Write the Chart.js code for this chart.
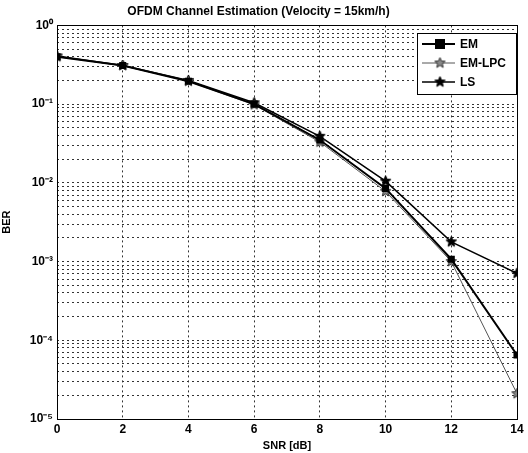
<!DOCTYPE html>
<html><head><meta charset="utf-8">
<script src="https://cdn.jsdelivr.net/npm/chart.js@4"></script>
<style>html,body{margin:0;padding:0;background:#fff}#wrap{width:528px;height:453px}</style>
</head><body><div id="wrap"><canvas id="c" width="528" height="453"></canvas></div>
<script>
const snr = [0, 2, 4, 6, 8, 10, 12, 14];
const berEM = [0.40, 0.31, 0.195, 0.100, 0.035, 0.0085, 0.00107, 6.5e-5];
const berEMLPC = [0.40, 0.31, 0.195, 0.098, 0.033, 0.0078, 0.00100, 2.1e-5];
const berLS = [0.41, 0.31, 0.20, 0.104, 0.039, 0.0105, 0.00178, 0.00071];
const seriesNames = ['EM', 'EM-LPC', 'LS'];
const yTickLabels = {0:'10\u2070', '-1':'10\u207B\u00B9', '-2':'10\u207B\u00B2', '-3':'10\u207B\u00B3', '-4':'10\u207B\u2074', '-5':'10\u207B\u2075'};

function starImg(size, fill, stroke, lw) {
  const c = document.createElement('canvas');
  c.width = size; c.height = size;
  const g = c.getContext('2d');
  const cx = size/2, cy = size/2, R = size/2 - 1, r = R*0.45;
  g.beginPath();
  for (let i = 0; i < 10; i++) {
    const a = -Math.PI/2 + i*Math.PI/5;
    const rr = i%2 ? r : R;
    const x = cx + rr*Math.cos(a), y = cy + rr*Math.sin(a);
    i ? g.lineTo(x,y) : g.moveTo(x,y);
  }
  g.closePath();
  if (fill) { g.fillStyle = fill; g.fill(); }
  g.lineWidth = lw; g.strokeStyle = stroke; g.stroke();
  return c;
}
const starLS = starImg(13, '#000', '#000', 1);
const starLPC = starImg(13, '#888', '#333', 1);

const toXY = (ys) => snr.map((x,i) => ({x, y: ys[i]}));

const frame = {
  id: 'frame',
  afterDraw(chart) {
    const {ctx, chartArea: a} = chart;
    ctx.save();
    ctx.strokeStyle = '#000'; ctx.lineWidth = 1;
    ctx.strokeRect(Math.round(a.left)+0.5, Math.round(a.top)+0.5, Math.round(a.right-a.left), Math.round(a.bottom-a.top));
    // legend box
    const lx = 417, ly = 33, lw = 99, lh = 61;
    ctx.fillStyle = '#fff'; ctx.fillRect(lx, ly, lw, lh);
    ctx.strokeRect(lx+0.5, ly+0.5, lw, lh);
    const rows = [44, 63, 82];
    const styles = [
      {c:'#000', w:2, m:'sq'},
      {c:'#555', w:1, m:starLPC},
      {c:'#000', w:1.5, m:starLS}
    ];
    ctx.font = 'bold 12px "Liberation Sans", Arial, sans-serif';
    ctx.textBaseline = 'middle';
    rows.forEach((y, i) => {
      const s = styles[i];
      ctx.strokeStyle = s.c; ctx.lineWidth = s.w;
      ctx.beginPath(); ctx.moveTo(422, y); ctx.lineTo(455, y); ctx.stroke();
      if (s.m === 'sq') { ctx.fillStyle = '#000'; ctx.fillRect(435, y-5, 10, 10); }
      else ctx.drawImage(s.m, 440-6.5, y-6.5);
      ctx.fillStyle = '#000';
      ctx.fillText(seriesNames[i], 460, y+1);
    });
    ctx.restore();
  }
};

new Chart(document.getElementById('c'), {
  type: 'line',
  data: {
    datasets: [
      {label: seriesNames[0], data: toXY(berEM), borderColor:'#000', backgroundColor:'#000', borderWidth:2, pointStyle:'rect', pointRadius:5, pointBorderWidth:0},
      {label: seriesNames[1], data: toXY(berEMLPC), borderColor:'#555', backgroundColor:'#888', borderWidth:1, pointStyle:starLPC, pointRadius:6},
      {label: seriesNames[2], data: toXY(berLS), borderColor:'#000', backgroundColor:'#000', borderWidth:1.5, pointStyle:starLS, pointRadius:6}
    ]
  },
  options: {
    responsive: false, animation: false,
    layout: {padding: {right: 11, left: 0, bottom: 0, top: 0}},
    plugins: {
      legend: {display: false},
      tooltip: {enabled: false},
      title: {display: true, text: 'OFDM Channel Estimation (Velocity = 15km/h)', color:'#000',
        font: {family:'"Liberation Sans", Arial, sans-serif', size: 12, weight: 'bold'}, padding: {top: 4, bottom: 7}}
    },
    scales: {
      x: {
        type: 'linear', min: 0, max: 14,
        afterFit(s) { s.height = 34; },
        ticks: {stepSize: 2, color:'#000', padding: 3, font: {family:'"Liberation Sans", Arial, sans-serif', size: 12, weight:'bold'}},
        grid: {color:'#333', lineWidth: 1, drawTicks: false, tickLength: 0},
        border: {display: false, dash: [2,3]},
        title: {display: true, text: 'SNR [dB]', color:'#000', padding: {top: 0, bottom: 0},
          font: {family:'"Liberation Sans", Arial, sans-serif', size: 11, weight:'bold'}}
      },
      y: {
        type: 'logarithmic', min: 1e-5, max: 1,
        afterFit(s) { s.width = 57; },
        ticks: {
          color:'#000', padding: 4, autoSkip: false,
          font: {family:'"Liberation Sans", Arial, sans-serif', size: 12, weight:'bold'},
          callback(v) {
            const e = Math.log10(v);
            if (Math.abs(e - Math.round(e)) < 1e-9) return yTickLabels[Math.round(e)];
            return '';
          }
        },
        afterBuildTicks(scale) {
          const t = [];
          for (let e = -5; e <= 0; e++) {
            for (let m = 1; m <= 9; m++) {
              const v = m * Math.pow(10, e);
              if (v <= 1 + 1e-12) t.push({value: v});
            }
          }
          scale.ticks = t;
        },
        grid: {color:'#333', lineWidth: 1, drawTicks: false, tickLength: 0},
        border: {display: false, dash: [2,3]},
        title: {display: true, text: 'BER', color:'#000', padding: {top: 0, bottom: 4},
          font: {family:'"Liberation Sans", Arial, sans-serif', size: 11, weight:'bold'}}
      }
    }
  },
  plugins: [frame]
});
</script></body></html>
